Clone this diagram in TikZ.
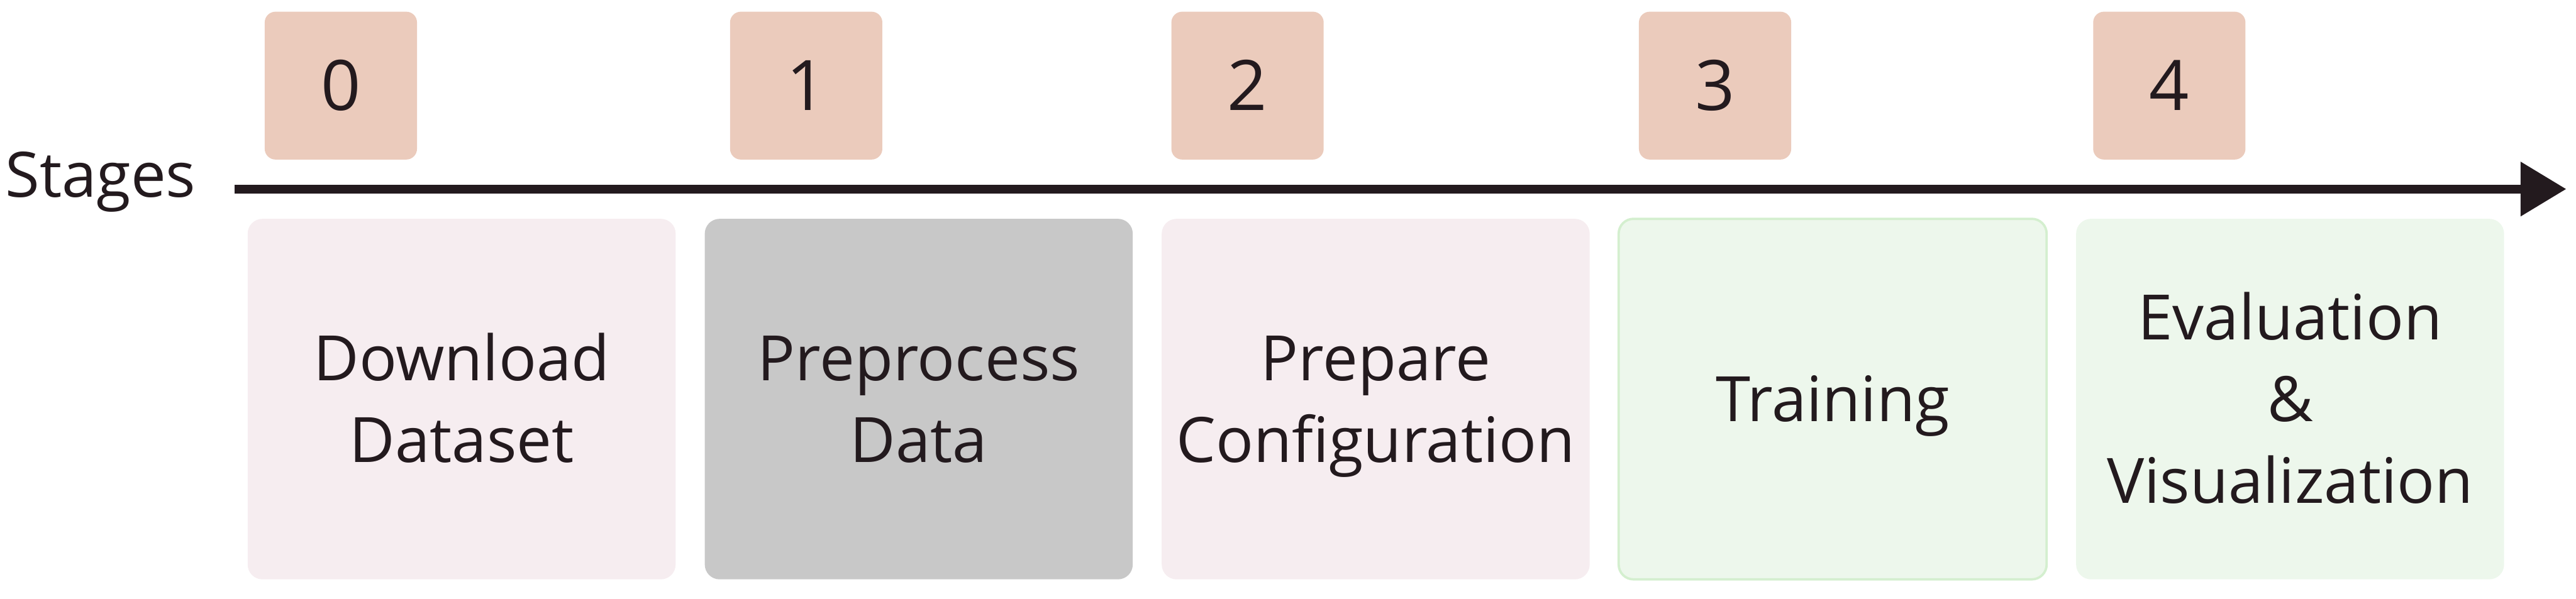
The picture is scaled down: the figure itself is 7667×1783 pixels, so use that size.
\documentclass[tikz,border=0pt]{standalone}
\usepackage{fontspec}
\setmainfont{Open Sans}
\usetikzlibrary{arrows.meta}
\definecolor{ink}{HTML}{231A1E}
\definecolor{numfill}{HTML}{EBCBBC}
\definecolor{pinkfill}{HTML}{F6EDF0}
\definecolor{grayfill}{HTML}{C8C8C8}
\definecolor{greenfill}{HTML}{EDF7EC}
\definecolor{greenline}{HTML}{D4EFCF}
\newcommand\lst{\rule[-0.25em]{0pt}{1.214em}}
\begin{document}
\begin{tikzpicture}[x=0.01cm,y=-0.01cm,
  numbox/.style={rectangle, fill=numfill, rounded corners=0.32cm,
    minimum width=4.53cm, minimum height=4.40cm, inner sep=0pt, text=ink,
    font=\fontsize{59}{70}\selectfont, text height=42.1pt, text depth=0pt},
  stagebox/.style={rectangle, rounded corners=0.44cm,
    minimum width=12.73cm, minimum height=10.73cm, inner sep=0pt,
    align=center, text=ink, font=\fontsize{53}{69}\selectfont},
  pinkbox/.style={stagebox, fill=pinkfill},
  graybox/.style={stagebox, fill=grayfill},
  greenbox/.style={stagebox, fill=greenfill},
  timeline/.style={line width=0.26cm, draw=ink,
    -{Triangle[length=1.36cm, width=1.56cm]}},
  lbl/.style={inner sep=0pt, text=ink, font=\fontsize{53}{69}\selectfont}]
\useasboundingbox (0,0) rectangle (7667,1783);

% stage numbers
\node[numbox] (n0) at (1014.5,255) {0};
\node[numbox] (n1) at (2399.5,255) {1};
\node[numbox] (n2) at (3713,255) {2};
\node[numbox] (n3) at (5104.5,255) {3};
\node[numbox] (n4) at (6456.5,255) {4};

% label and timeline
\node[lbl, anchor=base west] (stg) at (15,587) {Stages};
\coordinate (tstart) at (698,563);
\coordinate (tend) at (7638,563);
\draw[timeline] (tstart) -- (tend);

% stage boxes
\node[pinkbox] (s0) at (1374,1188.5) {\lst Download\\\lst Dataset};
\node[graybox] (s1) at (2734.5,1188.5) {\lst Preprocess\\\lst Data};
\node[pinkbox] (s2) at (4094.5,1188.5) {\lst Prepare\\\lst Configuration};
\node[greenbox, draw=greenline, line width=0.07cm] (s3) at (5454.5,1188.5) {\lst Training};
\node[greenbox] (s4) at (6816,1188.5) {\lst Evaluation\\\lst \&\\\lst Visualization};
\end{tikzpicture}
\end{document}
